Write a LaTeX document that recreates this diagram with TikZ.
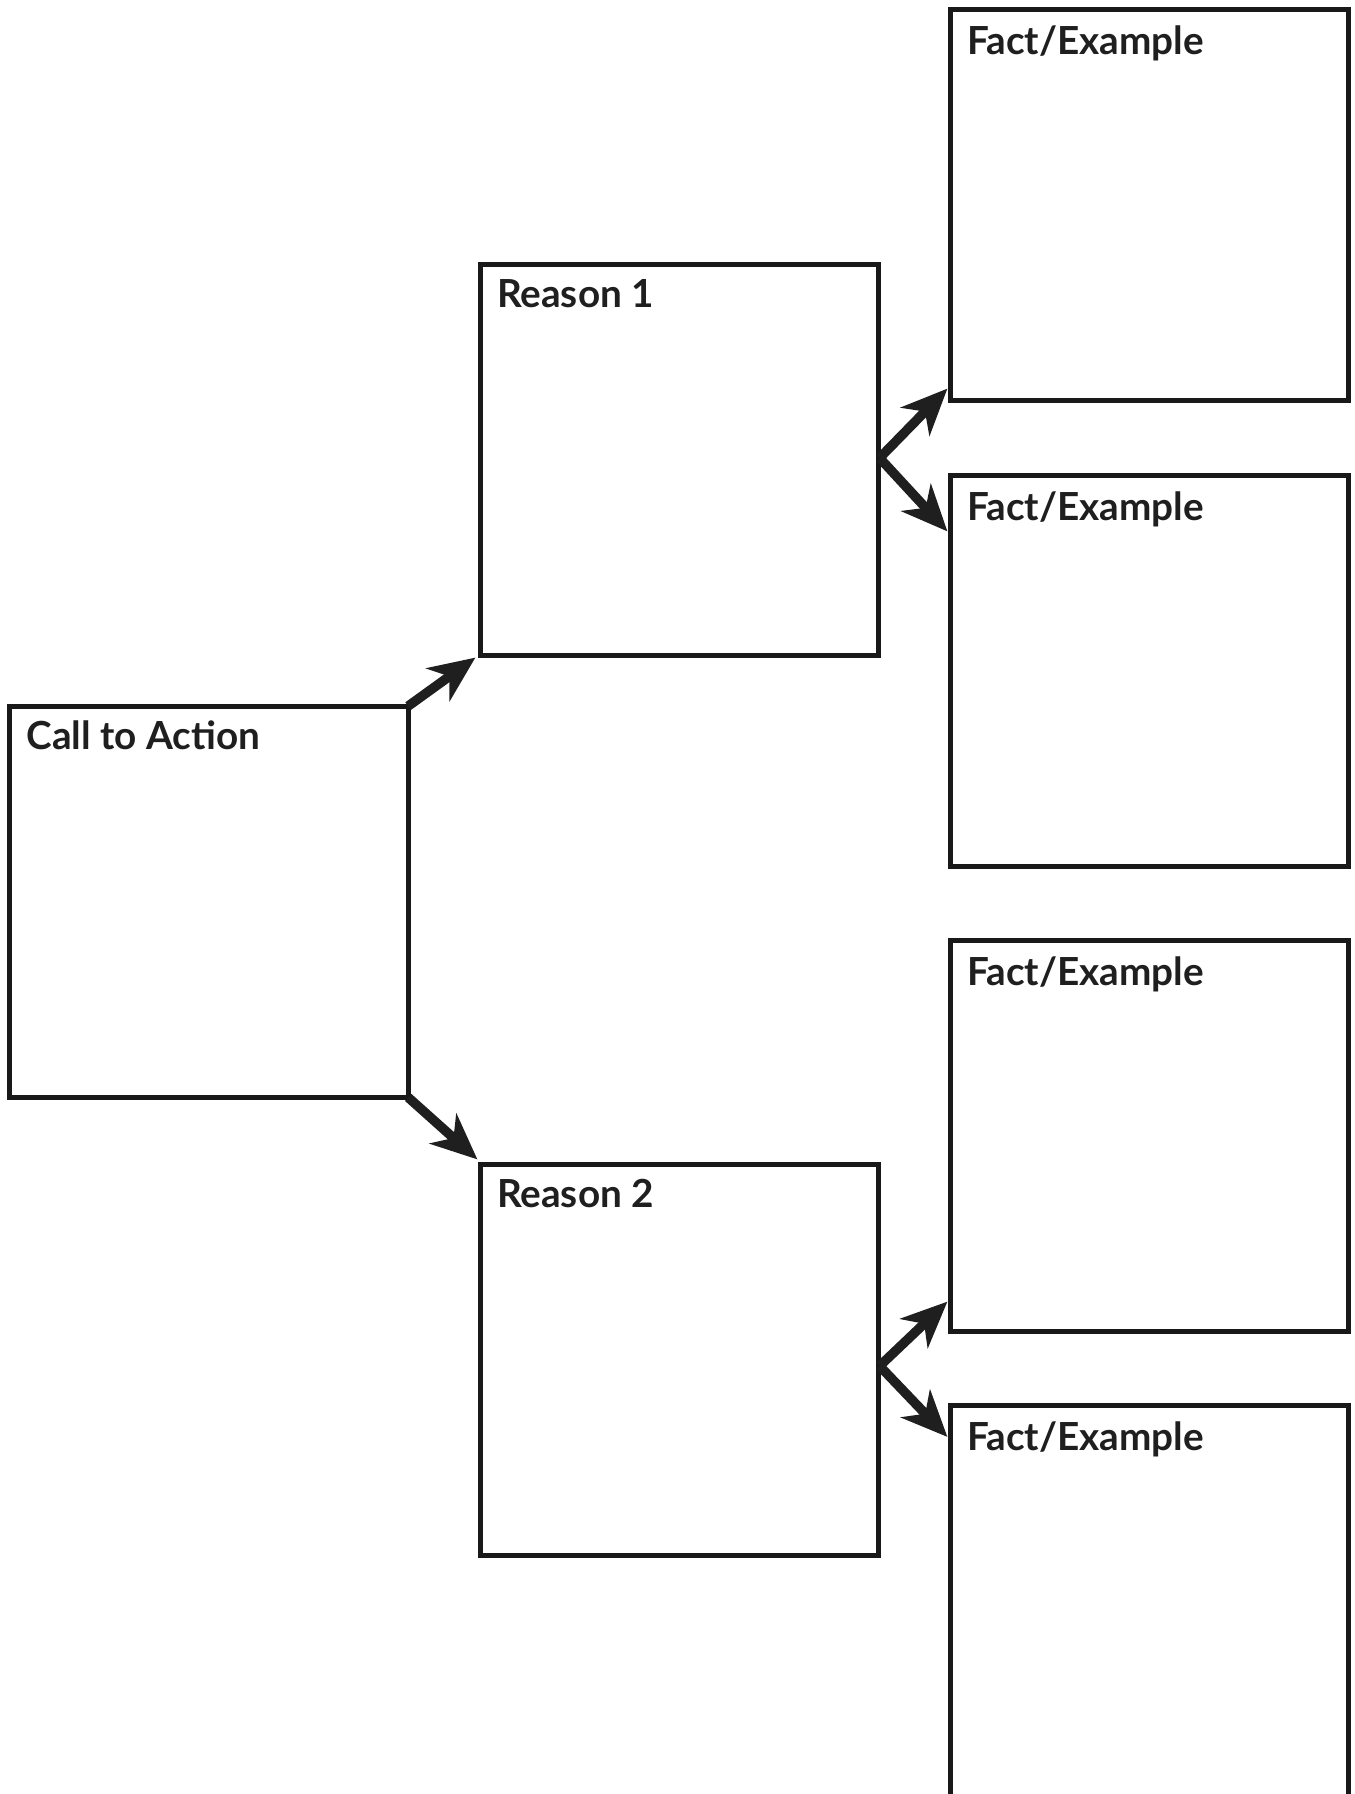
\documentclass[tikz,border=0pt]{standalone}
\usepackage{fontspec}
\setmainfont{Lato}
\usetikzlibrary{arrows.meta,calc}
\tikzset{
  box/.style={draw=black!90, line width=0.05cm, minimum width=3.98cm, minimum height=3.91cm, inner sep=0pt, outer sep=0pt},
  lbl/.style={anchor=base west, inner sep=0pt, font=\fontsize{11}{13}\selectfont\bfseries, text=black!88},
  conn/.style={draw=black!88, line width=0.095cm, -{Stealth[length=0.46cm, width=0.40cm, inset=0.14cm]}}
}
\begin{document}
\begin{tikzpicture}[x=0.01cm, y=-0.01cm]
\useasboundingbox (0,0) rectangle (1354,1794);
\clip (0,0) rectangle (1354,1794);
\fill[white] (0,0) rectangle (1354,1794);
\node[box] (call) at (209,901.75) {};
\node[box] (r1) at (679.5,460) {};
\node[box] (r2) at (679.5,1360) {};
\node[box] (f1) at (1149.5,205) {};
\node[box] (f2) at (1149.5,671) {};
\node[box] (f3) at (1149.5,1136) {};
\node[box] (f4) at (1149.5,1601.5) {};
\node[lbl] (tcall) at ($(call.north west)+(16,43)$) {Call to Action};
\node[lbl] (tr1) at ($(r1.north west)+(16,43)$) {Reason 1};
\node[lbl] (tr2) at ($(r2.north west)+(16,43)$) {Reason 2};
\node[lbl] (tf1) at ($(f1.north west)+(16,45)$) {Fact/Example};
\node[lbl] (tf2) at ($(f2.north west)+(16,45)$) {Fact/Example};
\node[lbl] (tf3) at ($(f3.north west)+(16,45)$) {Fact/Example};
\node[lbl] (tf4) at ($(f4.north west)+(16,45)$) {Fact/Example};
\coordinate (a1) at ($(r1.south west)+(-5,2)$);
\coordinate (a2) at ($(r2.north west)+(-3,-5)$);
\coordinate (b1) at ($(f1.south west)+(-3,-12)$);
\coordinate (b2) at ($(f2.north west)+(-3,56)$);
\coordinate (b3) at ($(f3.south west)+(-3,-30)$);
\coordinate (b4) at ($(f4.north west)+(-3,31)$);
\coordinate (v1) at ($(r1.east)+(1,-2)$);
\coordinate (v2) at ($(r2.east)+(1,6)$);
\draw[conn] (call.north east) -- (a1);
\draw[conn] (call.south east) -- (a2);
\draw[conn] (v1) -- (b1);
\draw[conn] (v1) -- (b2);
\draw[conn] (v2) -- (b3);
\draw[conn] (v2) -- (b4);
\end{tikzpicture}
\end{document}
